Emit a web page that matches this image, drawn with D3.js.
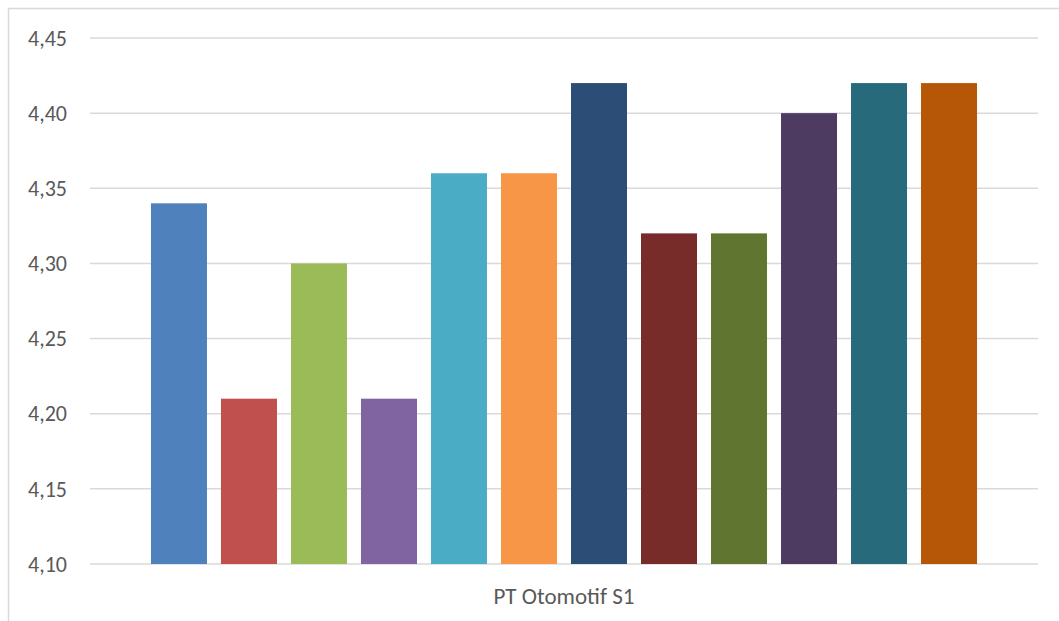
<!DOCTYPE html>
<html>
<head>
<meta charset="utf-8">
<script src="https://cdn.jsdelivr.net/npm/d3@7"></script>
<style>
  body { margin: 0; background: #fff; }
  svg { display: block; }
</style>
</head>
<body>
<div id="chart"></div>
<script>
var categories = ["PT Otomotif S1"];
var seriesNames = ["S1", "S2", "S3", "S4", "S5", "S6", "S7", "S8", "S9", "S10", "S11", "S12"];
var seriesValues = [4.34, 4.21, 4.30, 4.21, 4.36, 4.36, 4.42, 4.32, 4.32, 4.40, 4.42, 4.42];
var seriesColors = ["#4f81bd", "#c0504d", "#9bbb59", "#8064a2", "#4bacc6", "#f79646",
  "#2c4d75", "#772c2a", "#5f7530", "#4d3b62", "#276a7c", "#b65708"];
var yTicks = [4.10, 4.15, 4.20, 4.25, 4.30, 4.35, 4.40, 4.45];

var width = 1059, height = 621,
  font = "Carlito, Calibri, Lato, sans-serif";

var svg = d3.select("#chart").append("svg")
  .attr("width", width)
  .attr("height", height);

// chart border (only top and left edges are inside the picture)
svg.append("rect")
  .attr("x", 8.5).attr("y", 8.5)
  .attr("width", width + 20).attr("height", height + 20)
  .attr("fill", "#fff")
  .attr("stroke", "#d9d9d9")
  .attr("stroke-width", 1.5);

var y = d3.scaleLinear().domain([4.10, 4.45]).range([564, 38]);

var x0 = d3.scaleBand().domain(categories).range([90, 1038]);

var x1 = d3.scaleBand()
  .domain(seriesNames)
  .range([0, x0.bandwidth()])
  .paddingInner(0.2)
  .paddingOuter(0.871);

// gridlines
svg.append("g")
  .selectAll("line")
  .data(yTicks)
  .join("line")
  .attr("x1", 90).attr("x2", 1038)
  .attr("y1", d => y(d)).attr("y2", d => y(d))
  .attr("stroke", "#d9d9d9")
  .attr("stroke-width", 1.5);

// y axis labels
var fmt = d => d3.format(".2f")(d).replace(".", ",");
svg.append("g")
  .selectAll("text")
  .data(yTicks)
  .join("text")
  .attr("x", 67)
  .attr("y", d => y(d))
  .attr("dy", "0.35em")
  .attr("text-anchor", "end")
  .attr("font-family", font)
  .attr("font-size", 22)
  .attr("fill", "#595959")
  .text(fmt);

// bars
var rows = seriesNames.map((s, i) => ({ name: s, value: seriesValues[i], color: seriesColors[i] }));
svg.append("g")
  .attr("transform", "translate(" + x0(categories[0]) + ",0)")
  .selectAll("rect")
  .data(rows)
  .join("rect")
  .attr("x", d => x1(d.name))
  .attr("width", x1.bandwidth())
  .attr("y", d => y(d.value))
  .attr("height", d => y(4.10) - y(d.value))
  .attr("fill", d => d.color);

// category label
svg.append("g")
  .selectAll("text")
  .data(categories)
  .join("text")
  .attr("x", d => x0(d) + x0.bandwidth() / 2)
  .attr("y", 604)
  .attr("text-anchor", "middle")
  .attr("font-family", font)
  .attr("font-size", 23)
  .attr("fill", "#595959")
  .text(d => d);
</script>
</body>
</html>
